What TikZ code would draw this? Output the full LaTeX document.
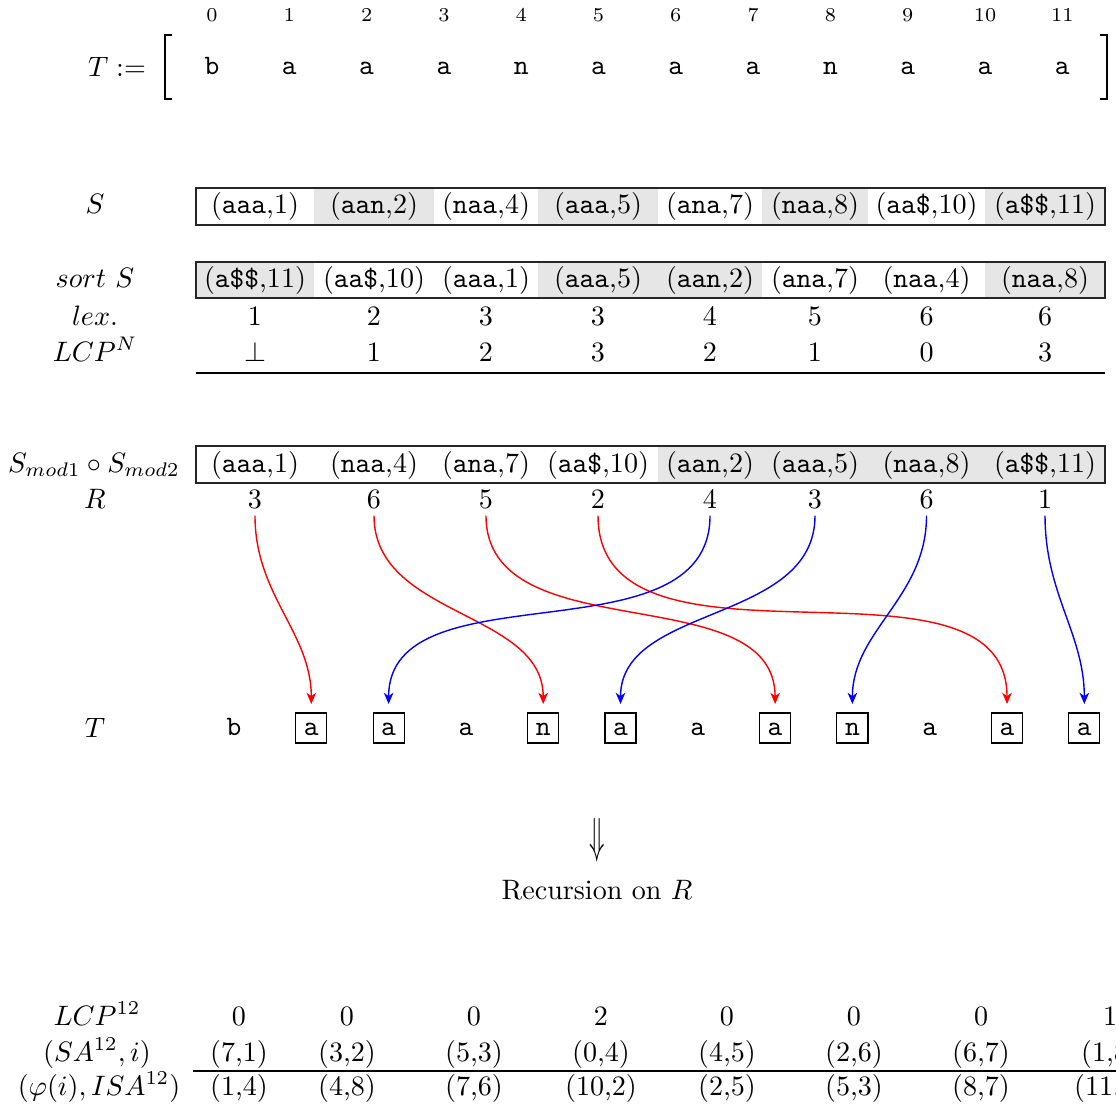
\documentclass[tikz,border=0pt]{standalone}
\usetikzlibrary{arrows.meta}
\definecolor{cellgray}{RGB}{230,230,230}
\tikzset{
  every node/.style={inner sep=0pt},
  cellt/.style={text height=7.5pt,text depth=2.5pt},
  idxt/.style={font=\scriptsize},
  tch/.style={font=\ttfamily,text height=6pt,text depth=1pt,inner xsep=2.9pt,inner ysep=1.85pt},
  tbox/.style={tch,draw},
  frame/.style={draw=black!85,line width=0.5pt},
  maparrow/.style={line width=0.5pt,shorten >=3pt,-{Stealth[length=4pt,width=3.4pt,inset=1.2pt]}},
  redmap/.style={maparrow,draw=red},
  bluemap/.style={maparrow,draw=blue},
}
\begin{document}
\begin{tikzpicture}[x=0.356pt,y=-0.356pt]
\useasboundingbox (0,0) rectangle (1116,1108);
\clip (0,0) rectangle (1116,1108);

% ---------- T := [ ... ]
\node (tlabel) at (117,67) {$T :=$};
\draw[line width=0.55pt] (172,35) -- (165,35) -- (165,99) -- (172,99);
\draw[line width=0.55pt] (1100,35) -- (1107,35) -- (1107,99) -- (1100,99);
\foreach \c [count=\i from 0] in {b,a,a,a,n,a,a,a,n,a,a,a} {
  \node[tch] (top\i) at ({212+77.3*\i},67) {\c};
  \node[idxt] (ix\i) at ({212+77.3*\i},15) {$\i$};
}

% ---------- S
\fill[cellgray] (314,188) rectangle (434,225);
\fill[cellgray] (538,188) rectangle (658,225);
\fill[cellgray] (762,188) rectangle (868,225);
\fill[cellgray] (985,188) rectangle (1105,225);
\draw[frame] (196,188) rectangle (1105,225);
\node[cellt] (lS) at (95,206) {$S$};
\foreach \x/\t [count=\i] in {255/{(\texttt{aaa},1)},374/{(\texttt{aan},2)},486/{(\texttt{naa},4)},598/{(\texttt{aaa},5)},710/{(\texttt{ana},7)},815/{(\texttt{naa},8)},926.5/{(\texttt{aa\$},10)},1045/{(\texttt{a\$\$},11)}}
  \node[cellt] (s\i) at (\x,206) {\t};

% ---------- sort S
\fill[cellgray] (196,262) rectangle (314,298);
\fill[cellgray] (538,262) rectangle (762,298);
\fill[cellgray] (985,262) rectangle (1105,298);
\draw[frame] (196,262) rectangle (1105,298);
\node[cellt] (lsort) at (95,280) {$sort\ S$};
\foreach \x/\t [count=\i] in {255/{(\texttt{a\$\$},11)},374/{(\texttt{aa\$},10)},486/{(\texttt{aaa},1)},598/{(\texttt{aaa},5)},710/{(\texttt{aan},2)},815/{(\texttt{ana},7)},926.5/{(\texttt{naa},4)},1045/{(\texttt{naa},8)}}
  \node[cellt] (ss\i) at (\x,280) {\t};

\node[cellt] (llex) at (95,318) {$lex.$};
\foreach \x/\t [count=\i] in {255/1,374/2,486/3,598/3,710/4,815/5,926.5/6,1045/6}
  \node[cellt] (lx\i) at (\x,318) {\t};
\node[cellt] (llcp) at (95,354) {$LCP^N$};
\foreach \x/\t [count=\i] in {255/{$\perp$},374/1,486/2,598/3,710/2,815/1,926.5/0,1045/3}
  \node[cellt] (lc\i) at (\x,354) {\t};
\draw[line width=0.5pt] (196,373) -- (1105,373);

% ---------- S_mod1 o S_mod2
\fill[cellgray] (658,446) rectangle (1105,483);
\draw[frame] (196,446) rectangle (1105,483);
\node[cellt] (lmod) at (94,465) {$S_{mod1}\circ S_{mod2}$};
\foreach \x/\t [count=\i] in {255/{(\texttt{aaa},1)},374/{(\texttt{naa},4)},486/{(\texttt{ana},7)},598/{(\texttt{aa\$},10)},710/{(\texttt{aan},2)},815/{(\texttt{aaa},5)},926.5/{(\texttt{naa},8)},1045/{(\texttt{a\$\$},11)}}
  \node[cellt] (m\i) at (\x,465) {\t};
\node[cellt] (lR) at (95,501) {$R$};
\foreach \x/\t [count=\i] in {255/3,374/6,486/5,598/2,710/4,815/3,926.5/6,1045/1}
  \node[cellt] (r\i) at (\x,501) {\t};

% ---------- T row
\node (lT) at (95,728) {$T$};
\foreach \c/\s [count=\i from 0] in {b/tch,a/tbox,a/tbox,a/tch,n/tbox,a/tbox,a/tch,a/tbox,n/tbox,a/tch,a/tbox,a/tbox}
  \node[\s] (t\i) at ({234+77.3*\i},728) {\c};

% ---------- mapping arrows
\draw[redmap]  (r1.south) to[out=-90,in=90] (t1.north);
\draw[redmap]  (r2.south) to[out=-90,in=90] (t4.north);
\draw[redmap]  (r3.south) to[out=-90,in=90] (t7.north);
\draw[redmap]  (r4.south) to[out=-90,in=90] (t10.north);
\draw[bluemap] (r5.south) to[out=-90,in=90] (t2.north);
\draw[bluemap] (r6.south) to[out=-90,in=90] (t5.north);
\draw[bluemap] (r7.south) to[out=-90,in=90] (t8.north);
\draw[bluemap] (r8.south) to[out=-90,in=90] (t11.north);

% ---------- recursion
\node (darr) at (597,840) {\scalebox{0.9}[1.75]{$\Downarrow$}};
\node (rec) at (597,890) {Recursion on $R$};

% ---------- bottom table
\node[cellt] (bl1) at (97,1018) {$LCP^{12}$};
\node[cellt] (bl2) at (97,1054) {$(SA^{12},i)$};
\node[cellt] (bl3) at (99,1088) {$(\varphi(i),ISA^{12})$};
\foreach \x/\a/\b/\c [count=\i] in {239/0/{(7,1)}/{(1,4)},347/0/{(3,2)}/{(4,8)},474/0/{(5,3)}/{(7,6)},601/2/{(0,4)}/{(10,2)},727/0/{(4,5)}/{(2,5)},854/0/{(2,6)}/{(5,3)},981/0/{(6,7)}/{(8,7)},1110/1/{(1,8)}/{(11,1)}} {
  \node[cellt] (ba\i) at (\x,1018) {\a};
  \node[cellt] (bb\i) at (\x,1054) {\b};
  \node[cellt] (bc\i) at (\x,1088) {\c};
}
\draw[line width=0.5pt] (193,1071) -- (1116,1071);
\end{tikzpicture}
\end{document}
